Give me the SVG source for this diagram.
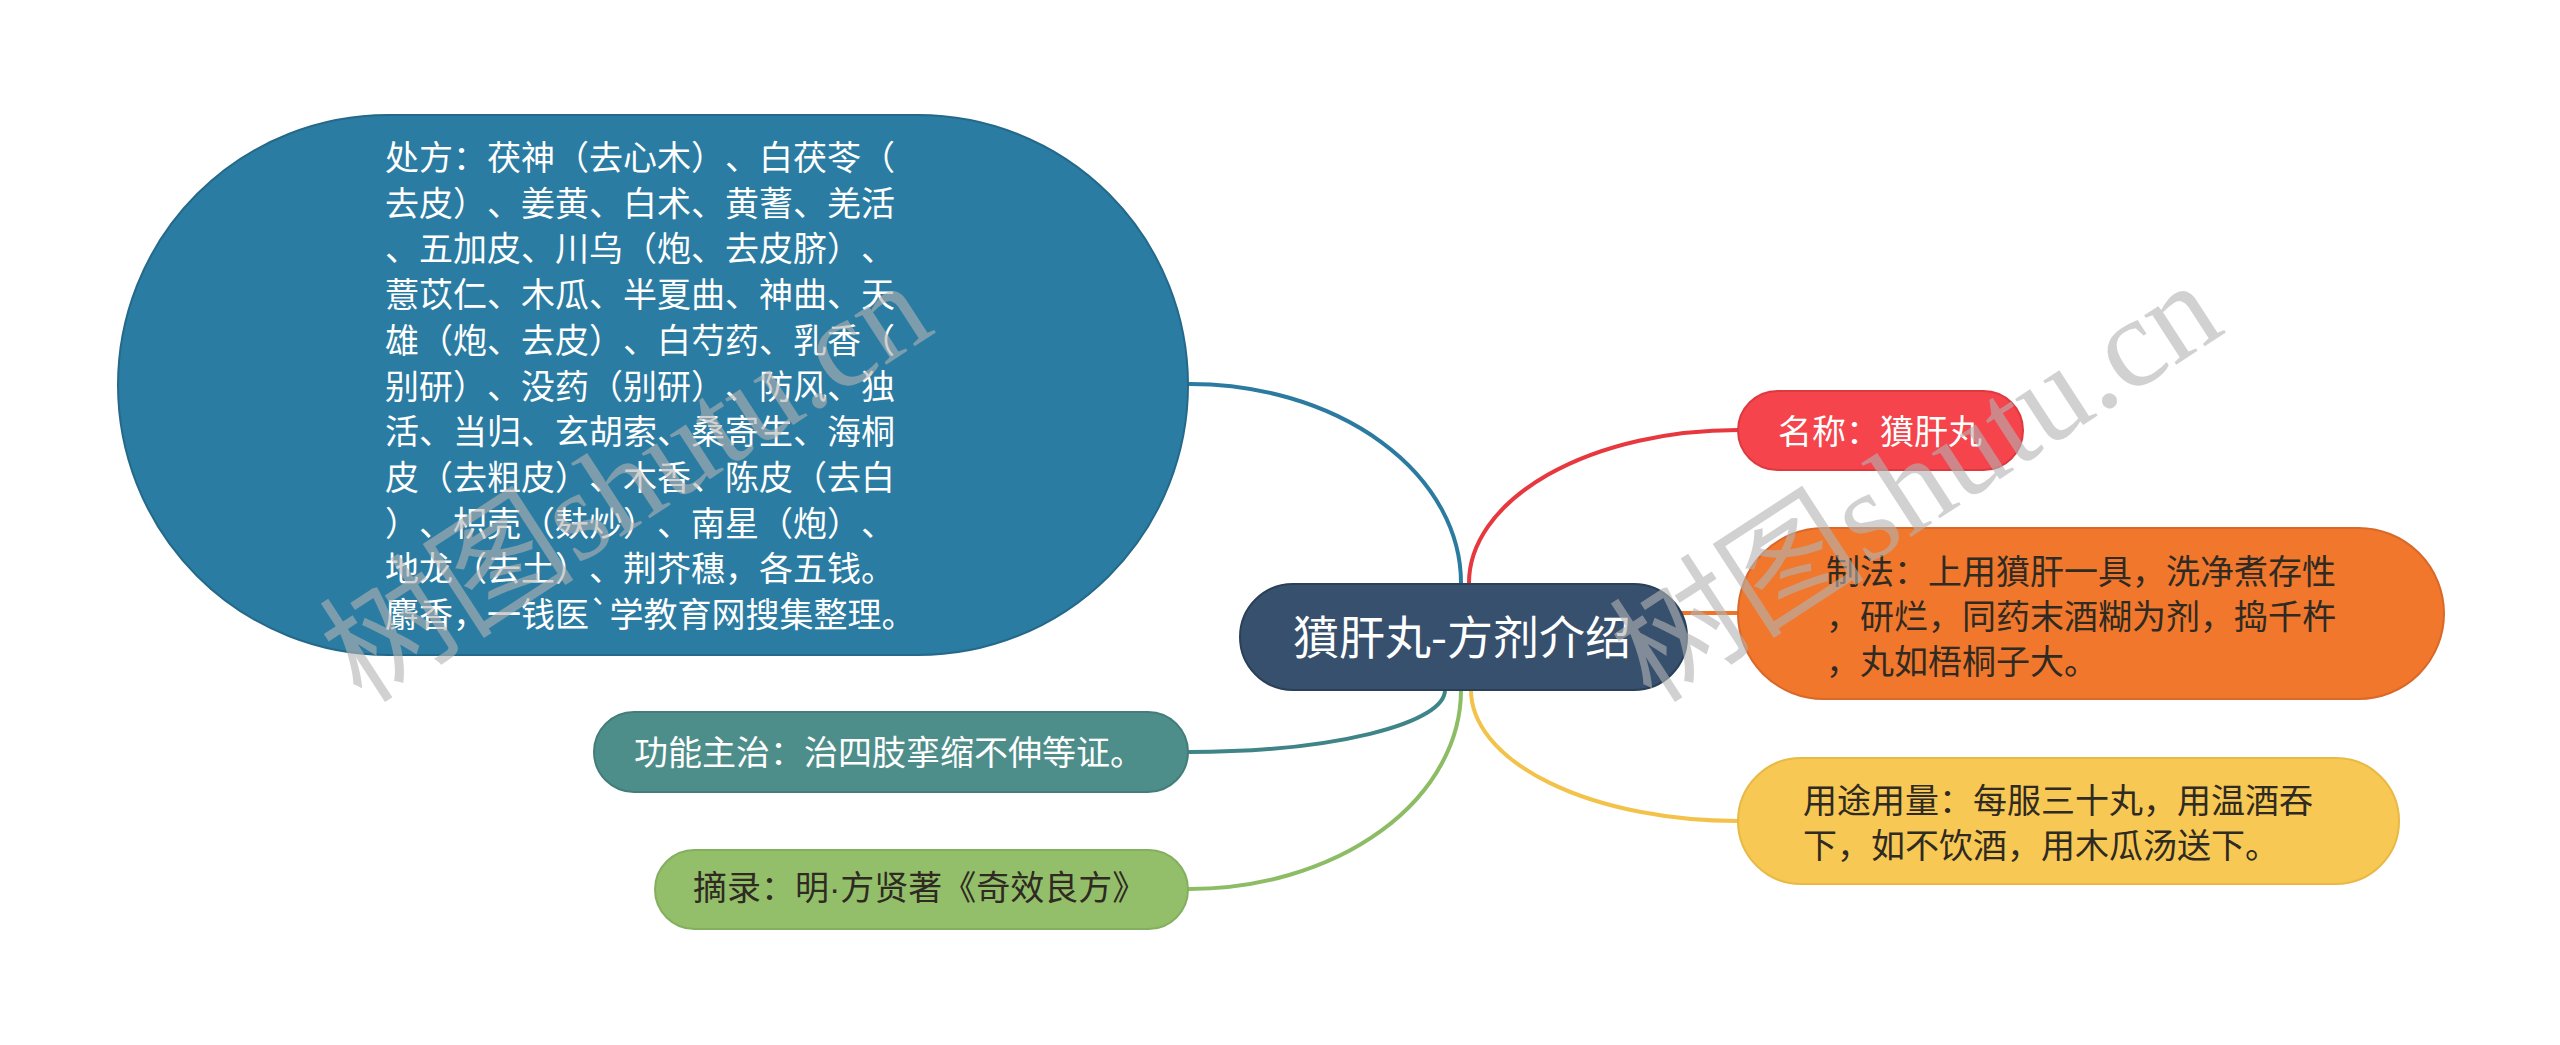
<svg xmlns="http://www.w3.org/2000/svg" width="2560" height="1045" viewBox="0 0 2560 1045">
<style>
text{text-spacing-trim:space-all;font-feature-settings:"chws" 0,"halt" 0,"palt" 0}
.t{font-family:"Noto Sans CJK SC","Noto Sans",sans-serif;font-size:34px}
.w{fill:#ffffff}
.d{fill:#2f2a22}
.c{fill:none;stroke-width:4;stroke-linecap:round}
.wm{font-family:"Liberation Serif","Noto Sans CJK SC",serif;font-size:128px;fill:#b4b4b4;opacity:0.6}
</style>
<rect width="2560" height="1045" fill="#ffffff"/>
<g id="connectors">
<path class="c" stroke="#2B7BA1" d="M1461,583 A271,199 0 0 0 1189,384"/>
<path class="c" stroke="#E8383F" d="M1469,583 A269,153 0 0 1 1738,430"/>
<path class="c" stroke="#EE7428" d="M1640,613 L1740,613"/>
<path class="c" stroke="#3F8588" d="M1445,690 A256,62 0 0 1 1189,752"/>
<path class="c" stroke="#8CBC64" d="M1461,690 A272,199 0 0 1 1189,889"/>
<path class="c" stroke="#F3C24A" d="M1471,690 A267,131 0 0 0 1738,821"/>
</g>
<g id="node-formula">
<rect x="118" y="115" width="1070" height="540" rx="270" ry="270" fill="#2B7CA2" stroke="#24698A" stroke-width="2"/>
<text class="t w" x="385"><tspan x="385" y="170">处方：茯神（去心木）、白茯苓（</tspan><tspan x="385" y="215.7">去皮）、姜黄、白术、黄蓍、羌活</tspan><tspan x="385" y="261.4">、五加皮、川乌（炮、去皮脐）、</tspan><tspan x="385" y="307.1">薏苡仁、木瓜、半夏曲、神曲、天</tspan><tspan x="385" y="352.8">雄（炮、去皮）、白芍药、乳香（</tspan><tspan x="385" y="398.5">别研）、没药（别研）、防风、独</tspan><tspan x="385" y="444.2">活、当归、玄胡索、桑寄生、海桐</tspan><tspan x="385" y="489.9">皮（去粗皮）、木香、陈皮（去白</tspan><tspan x="385" y="535.6">）、枳壳（麸炒）、南星（炮）、</tspan><tspan x="385" y="581.3">地龙（去土）、荆芥穗，各五钱。</tspan><tspan x="385" y="627">麝香，一钱医`学教育网搜集整理。</tspan></text>
</g>
<g id="node-function">
<rect x="594" y="712" width="594" height="80" rx="40" ry="40" fill="#4E8E8A" stroke="#437D79" stroke-width="2"/>
<text class="t w" x="634" y="765">功能主治：治四肢挛缩不伸等证。</text>
</g>
<g id="node-source">
<rect x="655" y="850" width="533" height="79" rx="39.5" ry="39.5" fill="#93BF6B" stroke="#84AF5E" stroke-width="2"/>
<text class="t d" x="693" y="900">摘录：明<tspan font-family="Liberation Sans, sans-serif">·</tspan>方贤著《奇效良方》</text>
</g>
<g id="node-center">
<rect x="1240" y="584" width="447" height="106" rx="53" ry="53" fill="#36506E" stroke="#2A4059" stroke-width="2"/>
<text x="1293" y="654" font-family="Noto Sans CJK SC, Noto Sans, sans-serif" font-size="46" fill="#ffffff">獖肝丸-方剂介绍</text>
</g>
<g id="node-name">
<rect x="1738" y="391" width="285" height="79" rx="39.5" ry="39.5" fill="#F5444B" stroke="#DD3A40" stroke-width="2"/>
<text class="t w" x="1778" y="444">名称：獖肝丸</text>
</g>
<g id="node-method">
<rect x="1738" y="528" width="706" height="171" rx="85.5" ry="85.5" fill="#F0772C" stroke="#D96829" stroke-width="2"/>
<text class="t d"><tspan x="1826" y="584">制法：上用獖肝一具，洗净煮存性</tspan><tspan x="1826" y="629">，研烂，同药末酒糊为剂，捣千杵</tspan><tspan x="1826" y="674">，丸如梧桐子大。</tspan></text>
</g>
<g id="node-usage">
<rect x="1738" y="758" width="661" height="126" rx="63" ry="63" fill="#F7C853" stroke="#E8B944" stroke-width="2"/>
<text class="t d"><tspan x="1803" y="813">用途用量：每服三十丸，用温酒吞</tspan><tspan x="1803" y="858">下，如不饮酒，用木瓜汤送下。</tspan></text>
</g>
<g id="watermarks">
<text class="wm" x="362" y="705" transform="rotate(-33 362 705)">树图shutu.cn</text>
<text class="wm" x="1652" y="705" transform="rotate(-33 1652 705)">树图shutu.cn</text>
</g>
</svg>
